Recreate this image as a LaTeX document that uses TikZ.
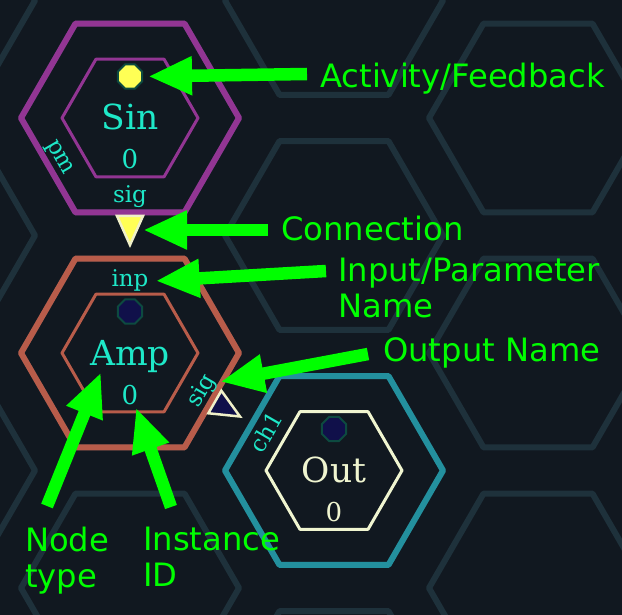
\documentclass[tikz,border=0pt]{standalone}
\usepackage{fontspec}
\setmainfont{DejaVu Serif}
\newfontfamily\notefont{DejaVu Sans}
\usetikzlibrary{positioning,arrows.meta,shapes.geometric,calc}
\definecolor{hexbg}{RGB}{17,24,32}
\definecolor{hexgrid}{RGB}{30,49,59}
\definecolor{sinpurple}{RGB}{146,53,147}
\definecolor{ampred}{RGB}{184,92,74}
\definecolor{outteal}{RGB}{35,144,158}
\definecolor{outcream}{RGB}{240,245,208}
\definecolor{labelcyan}{RGB}{30,232,200}
\definecolor{notegreen}{RGB}{0,255,0}
\definecolor{activeyellow}{RGB}{255,255,85}
\definecolor{idlenavy}{RGB}{16,16,74}
\definecolor{dotrim}{RGB}{13,74,64}
\definecolor{portcream}{RGB}{240,240,200}

\begin{document}
\begin{tikzpicture}[x=1pt,y=-1pt,
    gridhex/.style={draw=hexgrid,line width=6pt,line join=round},
    outerhex/.style={regular polygon,regular polygon sides=6,minimum size=218pt,
        inner sep=0pt,line width=6pt,line join=round},
    innerhex/.style={regular polygon,regular polygon sides=6,minimum size=136pt,
        inner sep=0pt,line width=3pt,line join=round},
    nodename/.style={anchor=base,inner sep=0pt,font=\fontsize{34.5}{40}\selectfont},
    nodeid/.style={anchor=base,inner sep=0pt,font=\fontsize{26}{30}\selectfont},
    portlabel/.style={inner sep=0pt,text=labelcyan,font=\fontsize{23}{27}\selectfont},
    actdot/.style={regular polygon,regular polygon sides=8,minimum size=26pt,
        inner sep=0pt,draw=dotrim,line width=2pt},
    porttri/.style={draw=portcream,line width=2.5pt},
    note/.style={inner sep=0pt,text=notegreen,align=left,
        font=\notefont\fontsize{32.2}{36}\selectfont},
    callout/.style={draw=notegreen,line width=12.5pt,
        -{Triangle[length=44pt,width=36pt]}}]
    \clip (0,0) rectangle (622,615);
    \fill[hexbg] (0,0) rectangle (622,615);
    % Hex grid (fundo)
    \foreach \cx/\cy in {-74/0.5,130/118,334/0.5,538/118}{
        \foreach \j in {-1,...,3}{
            \draw[gridhex,shift={(\cx,{\cy+235*\j})}] (0:109) -- (60:109) -- (120:109)
                -- (180:109) -- (240:109) -- (300:109) -- cycle;
        }
    }
    % Sin node
    \node[outerhex,draw=sinpurple] (sin) at (130,118) {};
    \node[innerhex,draw=sinpurple] (sininner) at (sin.center) {};
    \node[actdot,fill=activeyellow] (sindot) at ($(sin.center)+(0,-41.5)$) {};
    \node[nodename,text=labelcyan] (sinname) at ($(sin.center)+(0,12)$) {Sin};
    \node[nodeid,text=labelcyan] (sinid) at ($(sin.center)+(0,51)$) {0};
    \node[portlabel,anchor=base] (sinsig) at ($(sin.center)+(0,85)$) {sig};
    \node[portlabel,rotate=-60] (sinpm) at ($(sin.center)+(-71,40)$) {pm};
    \coordinate (sinport) at ($(sin.center)+(0,112)$);
    \begin{scope}[shift={(sin.center)}]
        \draw[porttri,fill=activeyellow] (-13,98) -- (13,98) -- (0,127) -- cycle;
    \end{scope}
    % Amp node
    \node[outerhex,draw=ampred] (amp) at (130,353) {};
    \node[innerhex,draw=ampred] (ampinner) at (amp.center) {};
    \node[actdot,fill=idlenavy] (ampdot) at ($(amp.center)+(0,-41.5)$) {};
    \node[nodename,text=labelcyan] (ampname) at ($(amp.center)+(0,12)$) {Amp};
    \node[nodeid,text=labelcyan] (ampid) at ($(amp.center)+(0,51)$) {0};
    \node[portlabel,anchor=base] (ampinp) at ($(amp.center)+(0,-66)$) {inp};
    \node[portlabel,rotate=60] (ampsig) at ($(amp.center)+(72,38)$) {sig};
    \begin{scope}[shift={(amp.center)},rotate=60]
        \draw[porttri,fill=idlenavy] (-13,98) -- (13,98) -- (0,127) -- cycle;
    \end{scope}
    % Out node
    \node[outerhex,draw=outteal] (out) at ($(amp.center)+(204,117.5)$) {};
    \node[innerhex,draw=outcream] (outinner) at (out.center) {};
    \node[actdot,fill=idlenavy] (outdot) at ($(out.center)+(0,-41.5)$) {};
    \node[nodename,text=outcream] (outname) at ($(out.center)+(0,12)$) {Out};
    \node[nodeid,text=outcream] (outid) at ($(out.center)+(0,51)$) {0};
    \node[portlabel,rotate=60] (outch) at ($(out.center)+(-68,-38.5)$) {ch1};
    % Notes
    \node[note,anchor=base west] (actnote) at (320,88) {Activity/Feedback};
    \node[note,anchor=base west] (connnote) at (281,241) {Connection};
    \node[note,anchor=north west] (inpnote) at (338,258) {Input/Parameter\\Name};
    \node[note,anchor=base west] (outnote) at (383,361) {Output Name};
    \node[note,anchor=north west] (typenote) at (25,527) {Node\\type};
    \node[note,anchor=north west] (idnote) at (143,527) {Instance\\ID};
    \draw[callout,shorten >=5pt] ([shift={(-13pt,14pt)}]actnote.base west) -- (sindot.east);
    \draw[callout,shorten >=13pt] ([shift={(-13pt,11pt)}]connnote.base west) -- (sinport);
    \draw[callout] ([shift={(-12pt,-13pt)}]inpnote.north west) -- ([xshift=7pt]ampinp.east);
    \draw[callout] ([shift={(-15pt,7pt)}]outnote.base west) -- (ampsig.south east);
    \draw[callout] ([shift={(22pt,21pt)}]typenote.north west) -- ([xshift=11pt]ampname.south west);
    \draw[callout] ([shift={(28pt,20pt)}]idnote.north west) -- ([shift={(6pt,-3pt)}]ampid.south);
\end{tikzpicture}
\end{document}
